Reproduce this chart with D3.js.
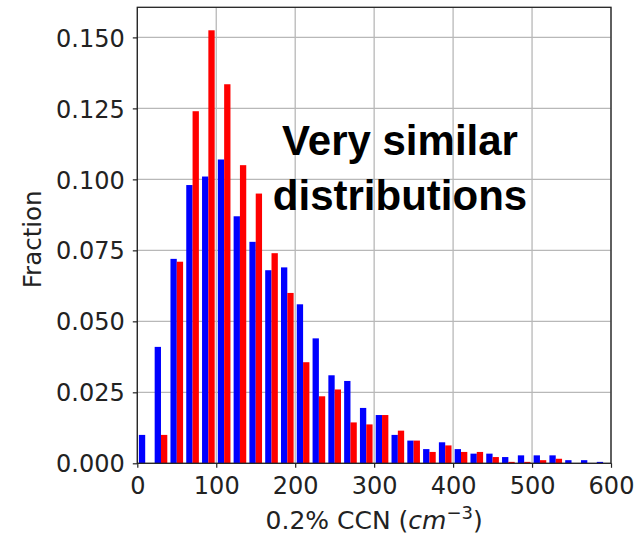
<!DOCTYPE html>
<html><head><meta charset="utf-8">
<script src="https://cdn.jsdelivr.net/npm/d3@7"></script>
<style>body{margin:0;background:#fff}svg{display:block}</style>
</head><body>
<script>
const binEdges = [0,20,40,60,80,100,120,140,160,180,200,220,240,260,280,300,320,340,360,380,400,420,440,460,480,500,520,540,560,580,600];
const blueValues = [0.010,0.041,0.072,0.098,0.101,0.107,0.087,0.078,0.068,0.069,0.056,0.044,0.031,0.029,0.0195,0.017,0.010,0.008,0.005,0.0074,0.005,0.0034,0.0034,0.0022,0.0028,0.0028,0.0028,0.0011,0.0011,0.0005];
const redValues  = [0,0.010,0.071,0.124,0.1525,0.1335,0.105,0.095,0.074,0.060,0.0356,0.0236,0.026,0.0144,0.0137,0.017,0.0115,0.008,0.004,0.0063,0.004,0.004,0.0022,0.0005,0.0005,0.0011,0.0016,0,0,0];
const xTicks = [0,100,200,300,400,500,600];
const yTicks = [0,0.025,0.05,0.075,0.1,0.125,0.15];
const xLabelMain = "0.2% CCN (";
const yLabel = "Fraction";
const noteLines = ["Very similar","distributions"];

const W = 637, H = 542;
const L = 137.3, R = 611, T = 7.3, B = 463.3;
const svg = d3.select("body").append("svg").attr("width",W).attr("height",H);
const x = d3.scaleLinear().domain([0,600]).range([L,R]);
const y = d3.scaleLinear().domain([0,0.1606]).range([B,T]);
const font = "DejaVu Sans";

// grid
const g = svg.append("g");
g.selectAll(".gx").data(xTicks).join("line")
  .attr("x1",d=>x(d)).attr("x2",d=>x(d)).attr("y1",T).attr("y2",B)
  .attr("stroke","#b8b8b8").attr("stroke-width",1.3);
g.selectAll(".gy").data(yTicks).join("line")
  .attr("y1",d=>y(d)).attr("y2",d=>y(d)).attr("x1",L).attr("x2",R)
  .attr("stroke","#b8b8b8").attr("stroke-width",1.3);

// bars
const bins = binEdges.slice(0,-1).map((s,i)=>({s, e:binEdges[i+1], b:blueValues[i], r:redValues[i]}));
const bars = svg.append("g");
bars.selectAll(".b").data(bins).join("rect")
  .attr("x",d=>x(d.s+0.1*(d.e-d.s))).attr("width",d=>x(d.s+0.5*(d.e-d.s))-x(d.s+0.1*(d.e-d.s)))
  .attr("y",d=>y(d.b)).attr("height",d=>y(0)-y(d.b)).attr("fill","#0000ff");
bars.selectAll(".r").data(bins).join("rect")
  .attr("x",d=>x(d.s+0.5*(d.e-d.s))).attr("width",d=>x(d.s+0.9*(d.e-d.s))-x(d.s+0.5*(d.e-d.s)))
  .attr("y",d=>y(d.r)).attr("height",d=>y(0)-y(d.r)).attr("fill","#ff0000");

// axes
const xa = svg.append("g").attr("transform",`translate(0,${B})`)
  .call(d3.axisBottom(x).tickValues(xTicks).tickFormat(d3.format("d")).tickSizeOuter(0).tickSize(4.5).tickPadding(8));
const ya = svg.append("g").attr("transform",`translate(${L},0)`)
  .call(d3.axisLeft(y).tickValues(yTicks).tickFormat(d3.format(".3f")).tickSizeOuter(0).tickSize(4.5).tickPadding(8));
[xa,ya].forEach(a=>{
  a.select(".domain").remove();
  a.selectAll("line").attr("stroke","#222").attr("stroke-width",1.2);
  a.selectAll("text").attr("font-family",font).attr("font-size",24).attr("fill","#222");
});
ya.selectAll("text").attr("dy","0.36em");
xa.selectAll("text").attr("dy","0.76em");

// spines
svg.append("rect").attr("x",L).attr("y",T).attr("width",R-L).attr("height",B-T)
  .attr("fill","none").attr("stroke","#222").attr("stroke-width",1.3);

// labels
const xl = svg.append("text").attr("x",(L+R)/2).attr("y",528.5).attr("text-anchor","middle")
  .attr("font-family",font).attr("font-size",25).attr("fill","#222");
xl.append("tspan").text(xLabelMain);
xl.append("tspan").attr("font-style","italic").text("cm");
xl.append("tspan").attr("font-size",18).attr("dy",-10).text("\u22123");
xl.append("tspan").attr("dy",10).text(")");

svg.append("text").attr("transform",`translate(40.5,${(T+B)/2+4}) rotate(-90)`)
  .attr("text-anchor","middle").attr("font-family",font).attr("font-size",24.5).attr("fill","#222").text(yLabel);

svg.selectAll(".note").data(noteLines).join("text")
  .attr("x",400).attr("y",(d,i)=>155+i*54.5).attr("text-anchor","middle")
  .attr("font-family","Liberation Sans, Arial").attr("font-weight","bold").attr("font-size",42).attr("fill","#000").text(d=>d);
</script>
</body></html>
